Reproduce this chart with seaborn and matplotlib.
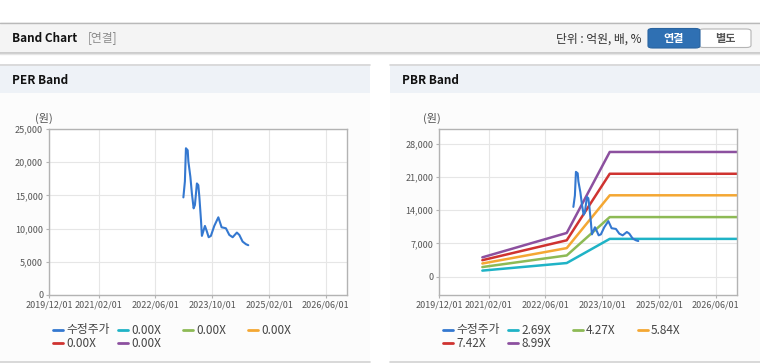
import pandas as pd
import seaborn as sns
import matplotlib.pyplot as plt
from matplotlib.patches import Rectangle, FancyBboxPatch
from matplotlib.lines import Line2D

# ---- data ----
price_dates = ["2023-01-27", "2023-02-09", "2023-02-18", "2023-03-05", "2023-03-11",
               "2023-03-28", "2023-04-10", "2023-04-25", "2023-05-06", "2023-05-23",
               "2023-06-04", "2023-06-13", "2023-06-27", "2023-07-05", "2023-07-31",
               "2023-08-17", "2023-09-01", "2023-09-20", "2023-10-19", "2023-11-23",
               "2023-12-21", "2024-01-27", "2024-02-25", "2024-03-25", "2024-04-30",
               "2024-05-21", "2024-06-18", "2024-07-17", "2024-08-06"]
price_values = [14700, 17100, 22100, 21800, 20100, 17800, 15300, 13050, 13550, 16800,
                16550, 14800, 11300, 8900, 10400, 9550, 8700, 8900, 10400, 11700,
                10200, 10050, 9050, 8700, 9400, 9050, 8050, 7650, 7500]

band_dates = ["2020-12-07", "2022-12-01", "2023-12-05", "2026-12-01"]
band_269 = [1250, 2850, 7950, 7950]
band_427 = [2000, 4450, 12550, 12550]
band_584 = [2750, 6000, 17150, 17150]
band_742 = [3450, 7650, 21700, 21700]
band_899 = [4050, 9200, 26300, 26300]

per_labels = ["수정주가", "0.00X", "0.00X", "0.00X", "0.00X", "0.00X"]
pbr_labels = ["수정주가", "2.69X", "4.27X", "5.84X", "7.42X", "8.99X"]
line_colors = ["#3478d0", "#1fb3c6", "#8dba55", "#f4a733", "#cf3330", "#8c509f"]

x_ticks = ["2019-12-01", "2021-02-01", "2022-06-01", "2023-10-01", "2025-02-01", "2026-06-01"]
x_tick_labels = ["2019/12/01", "2021/02/01", "2022/06/01", "2023/10/01", "2025/02/01", "2026/06/01"]
per_yticks = [0, 5000, 10000, 15000, 20000, 25000]
pbr_yticks = [0, 7000, 14000, 21000, 28000]

price = pd.DataFrame({"date": pd.to_datetime(price_dates), "value": price_values})
bands = pd.DataFrame({"date": pd.to_datetime(band_dates)})
for lab, vals in zip(pbr_labels[1:], [band_269, band_427, band_584, band_742, band_899]):
    bands[lab] = vals
bands = bands.melt(id_vars="date", var_name="band", value_name="value")

sns.set_theme(style="whitegrid")
plt.rcParams['font.family'] = ['Noto Sans CJK KR', 'DejaVu Sans']

W, H = 760, 364
fig = plt.figure(figsize=(W / 100, H / 100), dpi=100)
fig.patch.set_facecolor("white")


def fx(x):
    return x / W


def fy(y):
    return 1 - y / H


def rect(x0, y0, x1, y1, color):
    fig.patches.append(Rectangle((fx(x0), fy(y1)), fx(x1) - fx(x0), fy(y0) - fy(y1),
                                 transform=fig.transFigure, facecolor=color,
                                 edgecolor="none", zorder=-10))


def hline(y, x0, x1, color, lw=1.0):
    fig.add_artist(Line2D([fx(x0), fx(x1)], [fy(y), fy(y)], color=color, lw=lw,
                          transform=fig.transFigure, zorder=-5))


# top header bar
rect(0, 22, 760, 53, "#f4f4f4")
hline(22.5, 0, 760, "#b9b9b9")
hline(53, 0, 760, "#c4c4c4", 1.2)
hline(54.3, 0, 760, "#e6e6e6", 1.0)
fig.text(fx(12), fy(38), "Band Chart", fontsize=8.5, fontweight="bold", color="#111",
         va="center", ha="left")
fig.text(fx(88), fy(38), "[연결]", fontsize=8.5, color="#8a8a8a", va="center", ha="left")
fig.text(fx(642), fy(39), "단위 : 억원, 배, %", fontsize=8.5, color="#333", va="center", ha="right")
fig.patches.append(FancyBboxPatch((fx(699), fy(47.5)), fx(751) - fx(699), fy(29) - fy(47.5),
                                  boxstyle="round,pad=0,rounding_size=0.006",
                                  transform=fig.transFigure, facecolor="white",
                                  edgecolor="#b5b5b5", lw=0.8))
fig.patches.append(FancyBboxPatch((fx(648), fy(48)), fx(700) - fx(648), fy(28.5) - fy(48),
                                  boxstyle="round,pad=0,rounding_size=0.006",
                                  transform=fig.transFigure, facecolor="#2f70b3",
                                  edgecolor="#2a64a0", lw=0.8))
fig.text(fx(674), fy(38.5), "연결", fontsize=8, fontweight="bold", color="white",
         va="center", ha="center")
fig.text(fx(725), fy(38.5), "별도", fontsize=8, fontweight="bold", color="#555",
         va="center", ha="center")

# panels
panels = [(0, 370, "PER Band"), (390, 760, "PBR Band")]
for x0, x1, title in panels:
    rect(x0, 93, x1, 362, "#fcfcfc")
    rect(x0, 64, x1, 93, "#eef2f7")
    hline(64.5, x0, x1, "#d6d6d6", 1.2)
    hline(362, x0, x1, "#d2d2d2", 1.2)
    fig.text(fx(x0 + 12), fy(80), title, fontsize=8.5, fontweight="bold", color="#111",
             va="center", ha="left")

ax_per = fig.add_axes([fx(49), fy(295), fx(347) - fx(49), fy(129) - fy(295)])
ax_pbr = fig.add_axes([fx(439), fy(295), fx(737) - fx(439), fy(129) - fy(295)])

sns.lineplot(data=price, x="date", y="value", ax=ax_per, color=line_colors[0], lw=1.5)
sns.lineplot(data=bands, x="date", y="value", hue="band", hue_order=pbr_labels[1:],
             palette=line_colors[1:], ax=ax_pbr, lw=1.8, legend=False)
sns.lineplot(data=price, x="date", y="value", ax=ax_pbr, color=line_colors[0], lw=1.5)

for ax, yt, ylim in [(ax_per, per_yticks, (0, 25000)), (ax_pbr, pbr_yticks, (-3900, 31150))]:
    ax.set_facecolor("white")
    ax.set_xlim(pd.Timestamp("2019-12-01"), pd.Timestamp("2026-12-01"))
    ax.set_ylim(*ylim)
    ax.set_xticks(pd.to_datetime(x_ticks))
    ax.set_xticklabels(x_tick_labels)
    ax.set_yticks(yt)
    ax.set_yticklabels([f"{v:,}" for v in yt])
    ax.set_xlabel("")
    ax.set_ylabel("")
    ax.grid(True, color="#e6e6e6", lw=0.8)
    for s in ax.spines.values():
        s.set_color("#b3b3b3")
        s.set_linewidth(1.0)
    ax.tick_params(axis="both", labelsize=6.5, colors="#b3b3b3", labelcolor="#555",
                   length=2.2, width=0.8, pad=2, bottom=True, left=True)

fig.text(fx(35), fy(118), "(원)", fontsize=8, color="#555", va="center", ha="left")
fig.text(fx(423), fy(118), "(원)", fontsize=8, color="#555", va="center", ha="left")

# legends
for base, labels in [(53, per_labels), (443, pbr_labels)]:
    for i, (lab, col) in enumerate(zip(labels, line_colors)):
        cx = base + 65 * (i % 4)
        cy = 330 + 13.3 * (i // 4)
        fig.add_artist(Line2D([fx(cx), fx(cx + 10)], [fy(cy), fy(cy)], color=col, lw=2,
                              transform=fig.transFigure))
        fig.text(fx(cx + 13), fy(cy), lab, fontsize=8.5, color="#444", va="center", ha="left")

fig.savefig("out.png", dpi=100)
